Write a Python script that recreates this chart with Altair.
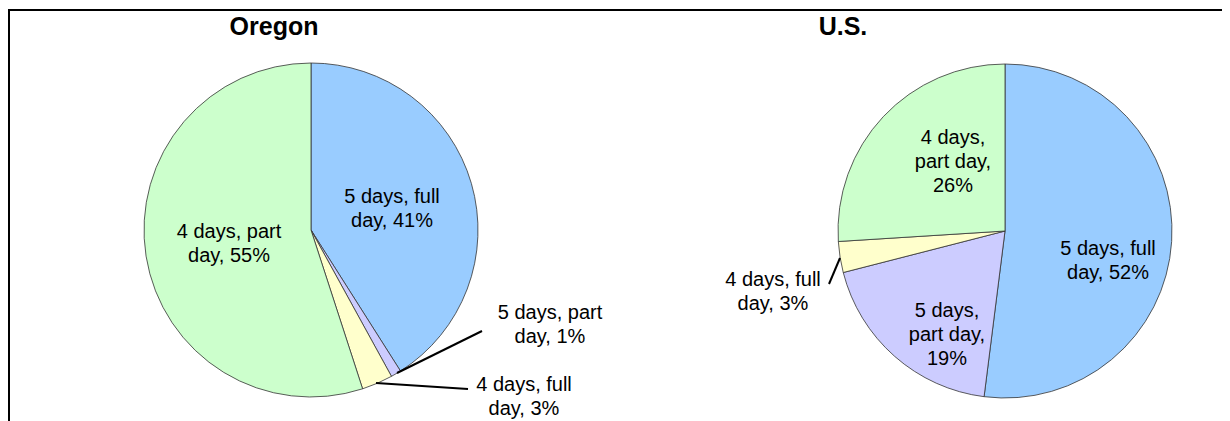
import altair as alt
import pandas as pd

# ---------------- data ----------------
regions = ["Oregon", "U.S."]
categories = ["5 days, full day", "5 days, part day", "4 days, full day", "4 days, part day"]
oregon_values = [41, 1, 3, 55]
us_values = [52, 19, 3, 26]
oregon_label_text = ["5 days, full\nday, {}%", "5 days, part\nday, {}%", "4 days, full\nday, {}%", "4 days, part\nday, {}%"]
us_label_text = ["5 days, full\nday, {}%", "5 days,\npart day,\n{}%", "4 days, full\nday, {}%", "4 days,\npart day,\n{}%"]
colors = ["#99CCFF", "#CCCCFF", "#FFFFCC", "#CCFFCC"]

# ---------------- layout (page pixel coordinates) ----------------
W, H = 1214, 413
X0, Y0 = 8, 8
R = 167
pie_center = {"Oregon": (311, 230), "U.S.": (1005, 231)}
title_pos = {"Oregon": (274, 35), "U.S.": (843, 35)}
# position of the first line of each label
label_pos = {
    "Oregon": [(392, 197), (550, 313), (524, 385), (229, 232)],
    "U.S.": [(1108, 249), (947, 311), (773, 280), (953, 138)],
}
leaders = {
    "Oregon": [None, ((397, 373), (482, 331)), ((376, 383), (468, 389)), None],
    "U.S.": [None, None, ((840, 258), (829, 284)), None],
}
border = [((8, 10), (1240, 10)), ((9, 10), (9, 425))]

values = {"Oregon": oregon_values, "U.S.": us_values}
texts = {"Oregon": oregon_label_text, "U.S.": us_label_text}

rows, lead_rows = [], []
for region in regions:
    cx, cy = pie_center[region]
    for i, cat in enumerate(categories):
        v = values[region][i]
        lx, ly = label_pos[region][i]
        rows.append(dict(region=region, category=cat, order=i, value=v,
                         label=texts[region][i].format(v), cx=cx, cy=cy, lx=lx, ly=ly))
        ld = leaders[region][i]
        if ld is not None:
            (a, b), (c, d) = ld
            lead_rows.append(dict(x1=a, y1=b, x2=c, y2=d))
df = pd.DataFrame(rows)
lead_df = pd.DataFrame(lead_rows)
title_df = pd.DataFrame([dict(t=r, x=title_pos[r][0], y=title_pos[r][1]) for r in regions])
border_df = pd.DataFrame([dict(x1=a[0], y1=a[1], x2=b[0], y2=b[1]) for a, b in border])

xs = alt.Scale(domain=[X0, X0 + W], nice=False, zero=False)
ys = alt.Scale(domain=[Y0, Y0 + H], nice=False, zero=False, reverse=True)


def pie(region):
    return alt.Chart(df).transform_filter(alt.datum.region == region).mark_arc(
        outerRadius=R, stroke="#333333", strokeWidth=0.8
    ).encode(
        x=alt.X("cx:Q", scale=xs, axis=None),
        y=alt.Y("cy:Q", scale=ys, axis=None),
        theta=alt.Theta("value:Q", stack=True, scale=alt.Scale(domain=[0, 100])),
        color=alt.Color("category:N", scale=alt.Scale(domain=categories, range=colors), legend=None),
        order=alt.Order("order:Q"),
    )


labels = alt.Chart(df).mark_text(
    font="Liberation Sans", fontSize=20, lineBreak="\n", lineHeight=24,
    align="center", baseline="middle", color="black"
).encode(
    x=alt.X("lx:Q", scale=xs, axis=None),
    y=alt.Y("ly:Q", scale=ys, axis=None),
    text="label:N",
)

titles = alt.Chart(title_df).mark_text(
    font="Liberation Sans", fontSize=25, fontWeight="bold",
    align="center", baseline="alphabetic", color="black"
).encode(
    x=alt.X("x:Q", scale=xs, axis=None),
    y=alt.Y("y:Q", scale=ys, axis=None),
    text="t:N",
)

lead = alt.Chart(lead_df).mark_rule(color="black", strokeWidth=2).encode(
    x=alt.X("x1:Q", scale=xs, axis=None),
    y=alt.Y("y1:Q", scale=ys, axis=None),
    x2="x2:Q",
    y2="y2:Q",
)

frame = alt.Chart(border_df).mark_rule(color="black", strokeWidth=2, clip=False).encode(
    x=alt.X("x1:Q", scale=xs, axis=None),
    y=alt.Y("y1:Q", scale=ys, axis=None),
    x2="x2:Q",
    y2="y2:Q",
)

chart = alt.layer(frame, pie("Oregon"), pie("U.S."), lead, labels, titles).properties(
    width=W, height=H, padding=0, autosize="none", background="white"
).configure_view(stroke=None)

chart.save("out.html", embed_options={"renderer": "svg", "actions": False})
